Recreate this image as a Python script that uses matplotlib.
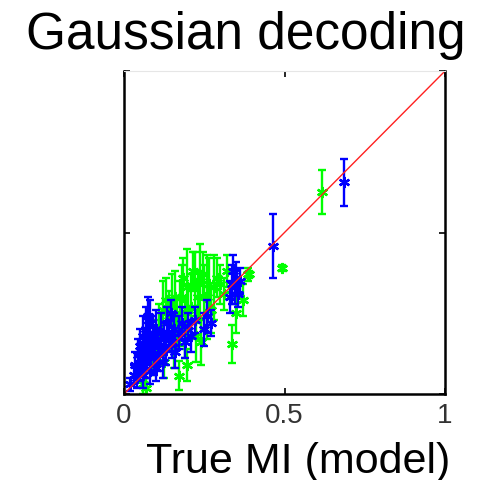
"""Gaussian decoding: estimated vs true MI."""
import numpy as np
import matplotlib
matplotlib.use('Agg')
from matplotlib import pyplot as plt

plt.rcParams['font.family'] = ['Liberation Sans', 'DejaVu Sans']

# blue series: true MI, estimate, error half-width
blue_x = [0.02, 0.03, 0.035, 0.04, 0.045, 0.05, 0.05, 0.055, 0.06, 0.06,
          0.065, 0.07, 0.07, 0.075, 0.075, 0.08, 0.08, 0.085, 0.09, 0.095,
          0.10, 0.10, 0.105, 0.11, 0.115, 0.12, 0.125, 0.13, 0.135, 0.14,
          0.145, 0.15, 0.155, 0.16, 0.17, 0.18, 0.19, 0.20, 0.21, 0.22,
          0.25, 0.26, 0.27, 0.33, 0.335, 0.34, 0.345, 0.35, 0.355, 0.36,
          0.465, 0.685]
blue_y = [0.03, 0.06, 0.09, 0.05, 0.12, 0.08, 0.15, 0.11, 0.18, 0.06,
          0.13, 0.20, 0.10, 0.16, 0.24, 0.22, 0.07, 0.14, 0.18, 0.11,
          0.20, 0.08, 0.15, 0.12, 0.19, 0.10, 0.17, 0.14, 0.22, 0.18,
          0.25, 0.16, 0.20, 0.13, 0.19, 0.22, 0.16, 0.21, 0.18, 0.23,
          0.20, 0.24, 0.22, 0.30, 0.34, 0.38, 0.33, 0.36, 0.31, 0.35,
          0.458, 0.656]
blue_err = [0.02, 0.03, 0.04, 0.03, 0.05, 0.04, 0.05, 0.05, 0.06, 0.04,
            0.05, 0.07, 0.05, 0.06, 0.06, 0.07, 0.04, 0.05, 0.06, 0.05,
            0.06, 0.04, 0.05, 0.05, 0.06, 0.05, 0.05, 0.05, 0.05, 0.05,
            0.04, 0.05, 0.05, 0.05, 0.05, 0.05, 0.05, 0.04, 0.05, 0.04,
            0.05, 0.05, 0.04, 0.05, 0.06, 0.05, 0.05, 0.05, 0.04, 0.04,
            0.10, 0.073]

# green series
green_x = [0.06, 0.07, 0.09, 0.10, 0.11, 0.12, 0.125, 0.13, 0.14, 0.15,
           0.155, 0.16, 0.165, 0.17, 0.175, 0.18, 0.185, 0.19, 0.195, 0.195,
           0.20, 0.21, 0.215, 0.22, 0.225, 0.23, 0.237, 0.24, 0.245, 0.25,
           0.26, 0.265, 0.27, 0.28, 0.29, 0.30, 0.31, 0.32, 0.336, 0.35,
           0.37, 0.385, 0.39, 0.492, 0.617]
green_y = [0.03, 0.02, 0.12, 0.16, 0.20, 0.26, 0.10, 0.29, 0.23, 0.28,
           0.15, 0.30, 0.22, 0.056, 0.25, 0.30, 0.36, 0.20, 0.09, 0.33,
           0.26, 0.27, 0.38, 0.34, 0.18, 0.30, 0.35, 0.16, 0.37, 0.30,
           0.30, 0.34, 0.26, 0.33, 0.36, 0.34, 0.31, 0.38, 0.155, 0.25,
           0.29, 0.37, 0.37, 0.39, 0.625]
green_err = [0.03, 0.03, 0.06, 0.07, 0.08, 0.09, 0.05, 0.07, 0.09, 0.09,
             0.07, 0.08, 0.08, 0.045, 0.10, 0.10, 0.06, 0.09, 0.05, 0.12,
             0.08, 0.10, 0.06, 0.10, 0.08, 0.08, 0.115, 0.07, 0.07, 0.10,
             0.13, 0.08, 0.07, 0.10, 0.06, 0.06, 0.05, 0.05, 0.06, 0.06,
             0.05, 0.02, 0.01, 0.01, 0.068]

fig = plt.figure(figsize=(4.87, 4.81), dpi=100)
ax = fig.add_axes([0.2546, 0.1788, 0.6592, 0.6715])

star = (6, 2, 0)
lw = 1.7
ax.errorbar(green_x, green_y, yerr=green_err, fmt='none', ecolor='#00ff00',
            elinewidth=lw, capsize=3, capthick=lw)
ax.plot(green_x, green_y, linestyle='none', marker=star, color='#00ff00',
        markersize=8, markeredgewidth=lw)
ax.errorbar(blue_x, blue_y, yerr=blue_err, fmt='none', ecolor='#0000ff',
            elinewidth=lw, capsize=3, capthick=lw)
ax.plot(blue_x, blue_y, linestyle='none', marker=star, color='#0000ff',
        markersize=8, markeredgewidth=lw)

ax.plot([0, 1], [0, 1], color='#ff2020', linewidth=1.0)

ax.set_xlim(0, 1)
ax.set_ylim(0, 1)
ax.set_xticks([0, 0.5, 1])
ax.set_xticklabels(['0', '0.5', '1'])
ax.set_yticks([0, 0.5, 1])
ax.set_yticklabels([])
ax.tick_params(direction='in', length=4, width=1.2, top=True, right=True,
               labelsize=20, labelcolor='#333333', pad=6)
for side in ['left', 'right', 'bottom']:
    ax.spines[side].set_linewidth(1.8)
ax.spines['top'].set_color('#e6e6e6')
ax.spines['top'].set_linewidth(0.8)

fig.text(246 / 487, 1 - 49 / 481, 'Gaussian decoding', ha='center',
         va='baseline', fontsize=37)
fig.text(298 / 487, 1 - 473 / 481, 'True MI (model)', ha='center',
         va='baseline', fontsize=31)

fig.savefig('out.png', dpi=100)
